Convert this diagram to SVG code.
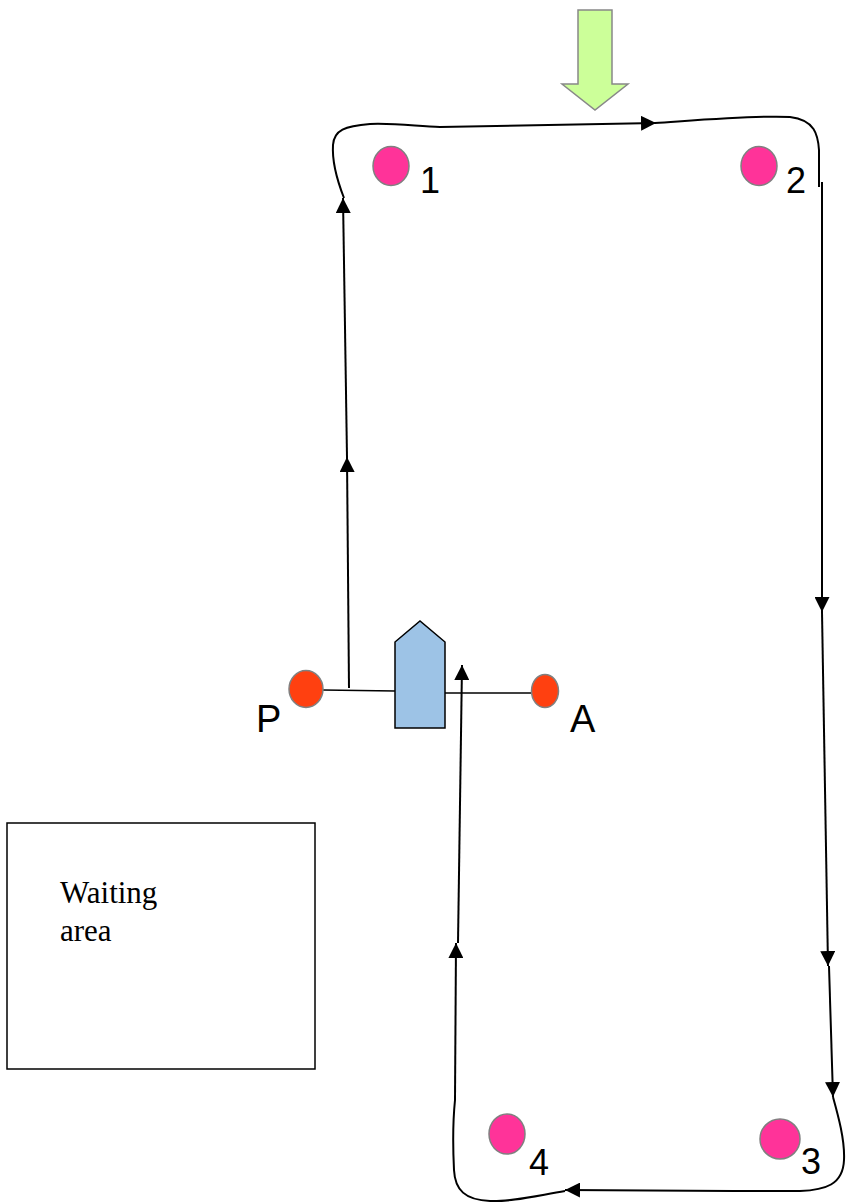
<svg xmlns="http://www.w3.org/2000/svg" width="846" height="1203" viewBox="0 0 846 1203">
<style>
.bg{fill:#ffffff}
.path{fill:none;stroke:#000;stroke-width:2}
.thin{fill:none;stroke:#000;stroke-width:1.5}
.buoy{fill:#ff3399;stroke:#808080;stroke-width:1.5}
.mark{fill:#ff4010;stroke:#808080;stroke-width:1.5}
.lbl{font-family:"Liberation Sans",Arial,sans-serif;font-size:36px;fill:#000}
.lbl2{font-family:"Liberation Sans",Arial,sans-serif;font-size:38px;fill:#000}
.serif{font-family:"Liberation Serif","Times New Roman",serif;font-size:31px;fill:#000}
</style>
<defs>
<marker id="ah" viewBox="0 0 15 15" refX="15" refY="7.5" markerWidth="15" markerHeight="15" markerUnits="userSpaceOnUse" orient="auto">
<path d="M0,0 L15,7.5 L0,15 z" fill="#000"/>
</marker>
</defs>
<rect class="bg" x="0" y="0" width="846" height="1203"/>

<g id="wind">
<path d="M578,10 L612,10 L612,84 L628,84 L595,110 L562,84 L578,84 Z" fill="#ccff99" stroke="#888" stroke-width="1.5"/>
</g>

<g id="connectors">
<path class="path" d="M349,688 L347,457" marker-end="url(#ah)"/>
<path class="path" d="M347,457 L343,198" marker-end="url(#ah)"/>
<path class="path" d="M344,198 C337,180 332,160 333,145 C334,130 345,126 370,124 C400,123 420,127 440,127"/>
<path class="path" d="M440,127 L656,123" marker-end="url(#ah)"/>
<path class="path" d="M655,123 C700,120 760,115 790,117 C815,120 818,135 819,150 L819,187"/>
<path class="path" d="M822,182 L822,612" marker-end="url(#ah)"/>
<path class="path" d="M822,612 L828,966" marker-end="url(#ah)"/>
<path class="path" d="M829,966 L833,1097" marker-end="url(#ah)"/>
<path class="path" d="M833,1097 C838,1115 845,1140 844,1160 C843,1185 825,1190 800,1191 L733,1191"/>
<path class="path" d="M733,1191 L565,1190" marker-end="url(#ah)"/>
<path class="path" d="M565,1191 C535,1196 510,1202 490,1201 C465,1200 455,1190 454,1170 C453,1150 453,1120 455,1100"/>
<path class="path" d="M455,1100 L456,943" marker-end="url(#ah)"/>
<path class="path" d="M458,943 L462,665" marker-end="url(#ah)"/>
<path class="thin" d="M323,690 L395,691"/>
<path class="thin" d="M445,693 L532,693"/>
</g>

<g id="buoy1">
<ellipse class="buoy" cx="391" cy="166" rx="18" ry="19.5"/>
<text class="lbl" x="420" y="193">1</text>
</g>
<g id="buoy2">
<ellipse class="buoy" cx="759" cy="166" rx="18" ry="19.5"/>
<text class="lbl" x="786" y="193">2</text>
</g>
<g id="buoy3">
<ellipse class="buoy" cx="780" cy="1139" rx="20" ry="20"/>
<text class="lbl" x="801" y="1174">3</text>
</g>
<g id="buoy4">
<ellipse class="buoy" cx="507" cy="1134" rx="18" ry="20"/>
<text class="lbl" x="529" y="1175">4</text>
</g>

<g id="markP">
<ellipse class="mark" cx="306" cy="689" rx="17" ry="18.5"/>
<text class="lbl2" x="256" y="732">P</text>
</g>
<g id="markA">
<ellipse class="mark" cx="545" cy="691" rx="13.5" ry="16.5"/>
<text class="lbl2" x="570" y="732">A</text>
</g>

<g id="boat">
<path d="M395,642 L420,621 L445,642 L445,728 L395,728 Z" fill="#9dc3e6" stroke="#000" stroke-width="1.5"/>
</g>

<g id="waiting">
<rect x="7" y="823" width="308" height="246" fill="#fff" stroke="#000" stroke-width="1.5"/>
<text class="serif" x="60" y="903">Waiting</text>
<text class="serif" x="60" y="941">area</text>
</g>
</svg>
